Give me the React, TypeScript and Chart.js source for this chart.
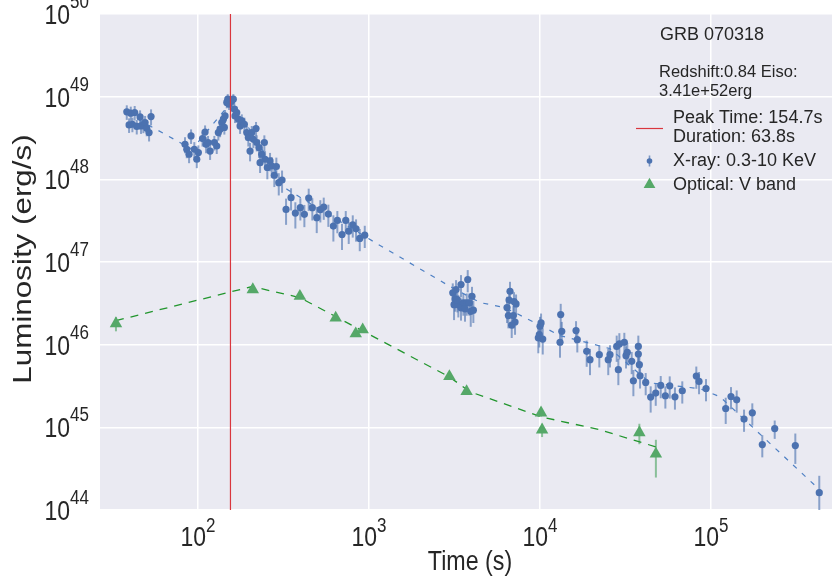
import { useEffect, useRef } from 'react';
import { Chart, registerables } from 'chart.js';

Chart.register(...registerables);

// ---- burst metadata ----
const burstName = 'GRB 070318';
const redshift = 0.84;
const eisoText = '3.41e+52erg';
const peakTime = 154.7; // s
const duration = 63.8; // s

// ---- axis ticks (powers of ten) ----
const xTickExps = [2, 3, 4, 5];
const yTickExps = [44, 45, 46, 47, 48, 49, 50];
const xMin = 26.7;
const xMax = 510000;
const yMin = 1e44;
const yMax = 1e50;

// ---- X-ray light curve (0.3-10 keV) ----
const xrayTime = [
  38.3, 40.4, 42.6, 45.8, 53.1, 39.5, 41.3, 43.8, 46.4, 47.9, 49.0, 50.1, 51.7,
  83.9, 85.9, 88.6, 91.0, 95.1, 98.3, 100.4, 106.2, 109.9, 111.4, 114.4, 117.6, 124.5, 128.6, 131.4, 134.5,
  137.6, 140.6, 142.5, 143.8, 147.2, 149.2, 151.8,
  157.4, 160.8, 163.0, 164.5, 168.4, 172.2, 176.1, 180.2, 186.6, 192.7, 196.8, 201.4, 206.1, 210.6, 218.3,
  220.4, 227.3, 230.5, 235.8, 244.2, 246.5, 254.2, 263.6, 269.8, 279.3, 287.0, 296.5, 309.9,
  327.1, 349.8, 370.7, 396.5, 418.6, 443.7, 465.9, 494.4, 519.0, 543.3, 578.1, 618.5, 652.6, 695.0, 730.8,
  760.6, 803.1, 839.5, 882.4, 944.0,
  3088, 3228, 3451, 3777, 3184, 3141, 3328, 3451, 3560, 3727, 3861, 4000, 3934, 4074, 3283, 3642,
  6676, 6590, 6412, 7046, 7240, 6530, 6979, 7142, 6830,
  9772, 10000, 10140, 10370, 9908, 13210, 13400, 13090, 16240, 16520, 18750, 19600, 22220, 25060, 25650,
  28080, 29100, 28710, 31120, 31840, 32390, 34360, 35150, 37580, 37580, 38100, 38450, 41500, 44370, 47500,
  50800, 54070, 57350, 61520, 67920, 82030, 85100, 93500, 121900, 130900, 141300, 156000, 174400, 199500,
  235800, 311200, 429700,
];
const xrayLum = [
  6.55e48, 6.31e48, 6.43e48, 5.69e48, 5.75e48, 4.55e48, 4.64e48, 4.36e48, 4.43e48, 4.52e48, 4.87e48, 4.15e48, 3.68e48,
  2.65e48, 2.31e48, 2.01e48, 3.35e48, 2.31e48, 1.75e48, 2.11e48, 3.11e48, 3.74e48, 2.65e48, 2.79e48, 2.2e48, 2.79e48,
  2.53e48, 3.68e48, 4.04e48, 4.87e48, 5.34e48, 4.24e48, 5.85e48, 8.51e48, 9.33e48, 8.11e48,
  8.89e48, 9.33e48, 7.05e48, 5.85e48, 6.43e48, 5.34e48, 4.43e48, 5.09e48, 4.64e48, 3.68e48, 3.2e48, 2.2e48, 3.68e48,
  3.05e48, 4.12e48, 2.79e48, 2.42e48, 1.59e48, 2.01e48, 2.79e48, 1.75e48, 1.39e48, 1.67e48, 1.45e48, 1.12e48, 1.43e48,
  9.12e47, 9.82e47,
  4.33e47, 6.0e47, 3.91e47, 4.54e47, 3.77e47, 5.93e47, 4.54e47, 3.44e47, 4.3e47, 4.62e47, 3.8e47, 2.72e47, 3.18e47,
  2.15e47, 3.18e47, 2.36e47, 2.82e47, 2.52e47, 1.93e47, 2.11e47,
  4.24e46, 4.64e46, 5.34e46, 6.14e46, 3.58e46, 3.05e46, 3.05e46, 2.79e46, 3.2e46, 3.2e46, 3.2e46, 3.85e46, 2.53e46,
  2.61e46, 3.51e46, 2.71e46,
  4.43e46, 3.46e46, 2.81e46, 3.32e46, 3.11e46, 2.25e46, 2.25e46, 1.88e46, 1.72e46,
  1.21e46, 1.67e46, 1.83e46, 1.17e46, 1.32e46, 2.31e46, 1.45e46, 1.07e46, 1.48e46, 1.15e46, 8.3e45, 6.58e45, 7.57e45,
  6.58e45, 7.57e45, 9.53e45, 1.02e46, 4.98e45, 1.07e46, 7.36e45, 8.07e45, 6.28e45, 3.66e45, 9.53e45, 7.71e45, 5.73e45,
  4.21e45, 3.49e45, 2.32e45, 2.6e45, 3.21e45, 2.41e45, 3.18e45, 2.34e45, 2.77e45, 4.18e45, 3.59e45, 2.95e45, 1.69e45,
  2.36e45, 2.15e45, 1.26e45, 1.5e45, 6.19e44, 9.67e44, 6.01e44, 1.62e44,
];
// 1-sigma error, as a fraction of each luminosity
const xrayErrFrac = [
  0.2, 0.2, 0.2, 0.2, 0.22, 0.2, 0.2, 0.2, 0.2, 0.2, 0.2, 0.2, 0.22,
  0.22, 0.22, 0.22, 0.2, 0.22, 0.22, 0.22, 0.2, 0.2, 0.22, 0.2, 0.22, 0.2, 0.2, 0.2, 0.2,
  0.18, 0.18, 0.18, 0.18, 0.15, 0.15, 0.15,
  0.15, 0.15, 0.18, 0.18, 0.18, 0.2, 0.2, 0.2, 0.2, 0.2, 0.22, 0.25, 0.2, 0.22, 0.2,
  0.22, 0.25, 0.25, 0.25, 0.22, 0.25, 0.28, 0.25, 0.28, 0.28, 0.28, 0.3, 0.3,
  0.35, 0.3, 0.35, 0.3, 0.3, 0.3, 0.3, 0.35, 0.3, 0.3, 0.3, 0.35, 0.3, 0.35, 0.3,
  0.3, 0.3, 0.3, 0.3, 0.3,
  0.3, 0.3, 0.3, 0.3, 0.3, 0.35, 0.3, 0.3, 0.3, 0.3, 0.3, 0.3, 0.35, 0.3, 0.3, 0.3,
  0.3, 0.3, 0.35, 0.3, 0.3, 0.3, 0.3, 0.3, 0.3,
  0.35, 0.3, 0.3, 0.35, 0.3, 0.35, 0.3, 0.35, 0.3, 0.3, 0.35, 0.35, 0.3, 0.35, 0.3,
  0.35, 0.35, 0.35, 0.3, 0.3, 0.3, 0.3, 0.35, 0.35, 0.3, 0.3, 0.3, 0.3, 0.35, 0.3,
  0.3, 0.3, 0.3, 0.3, 0.3, 0.3, 0.3, 0.3, 0.35, 0.3, 0.3, 0.3, 0.3, 0.3,
  0.25, 0.4, 0.6,
];

// ---- X-ray model curve ----
const xrayModelTime = [38.4, 92.3, 158, 331, 1084, 2980, 4460, 6240, 13090, 25650, 43950, 86300, 113000, 446000];
const xrayModelLum = [
  6.31e48, 2.31e48, 8.82e48, 7.57e47, 1.72e47, 5.05e46, 3.23e46, 2.81e46, 1.29e46, 8.95e45, 3.46e45, 2.93e45,
  2.34e45, 1.65e44,
];

// ---- optical V-band light curve ----
const optTime = [33.1, 209, 394, 638, 836, 918, 2950, 3720, 10140, 10280, 38100, 47600];
const optLum = [1.8e46, 4.64e46, 3.85e46, 2.11e46, 1.36e46, 1.52e46, 4.13e45, 2.72e45, 1.5e45, 9.33e44, 8.65e44, 4.77e44];
const optErr = [3.5e45, 3.0e45, 2.5e45, 1.5e45, 1.0e45, 1.0e45, 3.0e44, 2.0e44, 1.5e44, 1.7e44, 2.4e44, 2.3e44];

// ---- optical model curve ----
const optModelTime = [33.1, 207, 394, 910, 2940, 3900, 10140, 22400, 47600];
const optModelLum = [1.95e46, 5.05e46, 3.71e46, 1.48e46, 4.09e45, 2.69e45, 1.34e45, 9.33e44, 5.8e44];

// ---- styling ----
const FONT = '"Liberation Sans", Arial, "DejaVu Sans", sans-serif';
const TEXT = '#262626';
const PLOT_BG = '#EAEAF2';
const BLUE = '#4C72B0';
const GREEN = '#55A868';
const RED = '#d9363e';

// Axis text is set in a condensed face: draw it narrowed horizontally.
function narrowText(
  ctx: CanvasRenderingContext2D,
  text: string,
  x: number,
  y: number,
  size: number,
  sx: number,
) {
  ctx.save();
  ctx.translate(x, y);
  ctx.scale(sx, 1);
  ctx.font = `${size}px ${FONT}`;
  ctx.textAlign = 'left';
  ctx.textBaseline = 'alphabetic';
  ctx.fillText(text, 0, 0);
  ctx.restore();
}

function measureNarrow(ctx: CanvasRenderingContext2D, text: string, size: number, sx: number) {
  ctx.font = `${size}px ${FONT}`;
  return ctx.measureText(text).width * sx;
}

const BASE_SIZE = 28;
const BASE_SX = 0.82;
const SUP_SIZE = 20;
const SUP_SX = 0.85;

function drawPower(
  ctx: CanvasRenderingContext2D,
  exp: number,
  x: number,
  baseY: number,
  supY: number,
  mode: 'right' | 'center',
) {
  const base = '10';
  const sup = String(exp);
  const bw = measureNarrow(ctx, base, BASE_SIZE, BASE_SX);
  const sw = measureNarrow(ctx, sup, SUP_SIZE, SUP_SX);
  const left = mode === 'right' ? x - bw - sw : x - (bw + sw) / 2;
  ctx.fillStyle = TEXT;
  narrowText(ctx, base, left, baseY, BASE_SIZE, BASE_SX);
  narrowText(ctx, sup, left + bw, supY, SUP_SIZE, SUP_SX);
}

const decorPlugin = {
  id: 'decor',
  beforeDraw(chart: any) {
    const { ctx, chartArea: a } = chart;
    ctx.save();
    ctx.fillStyle = '#ffffff';
    ctx.fillRect(0, 0, chart.width, chart.height);
    ctx.fillStyle = PLOT_BG;
    ctx.fillRect(a.left, a.top, a.right - a.left, a.bottom - a.top);
    ctx.restore();
  },
  beforeDatasetsDraw(chart: any) {
    const { ctx, chartArea: a, scales } = chart;
    const xs = scales.x;
    const ys = scales.y;
    ctx.save();
    ctx.beginPath();
    ctx.rect(a.left, a.top, a.right - a.left, a.bottom - a.top);
    ctx.clip();
    ctx.lineWidth = 2;
    ctx.strokeStyle = 'rgba(76,114,176,0.62)';
    xrayTime.forEach((t, i) => {
      const px = xs.getPixelForValue(t);
      const e = xrayLum[i] * xrayErrFrac[i];
      const lo = Math.max(xrayLum[i] - e, yMin * 0.1);
      ctx.beginPath();
      ctx.moveTo(px, ys.getPixelForValue(xrayLum[i] + e));
      ctx.lineTo(px, ys.getPixelForValue(lo));
      ctx.stroke();
    });
    ctx.strokeStyle = 'rgba(85,168,104,0.65)';
    optTime.forEach((t, i) => {
      const px = xs.getPixelForValue(t);
      ctx.beginPath();
      ctx.moveTo(px, ys.getPixelForValue(optLum[i] + optErr[i]));
      ctx.lineTo(px, ys.getPixelForValue(optLum[i] - optErr[i]));
      ctx.stroke();
    });
    ctx.restore();
  },
  afterDatasetsDraw(chart: any) {
    const { ctx, chartArea: a, scales } = chart;
    const px = scales.x.getPixelForValue(peakTime);
    ctx.save();
    ctx.strokeStyle = RED;
    ctx.lineWidth = 1.2;
    ctx.beginPath();
    ctx.moveTo(px, a.top);
    ctx.lineTo(px, a.bottom);
    ctx.stroke();
    ctx.restore();
  },
  afterDraw(chart: any) {
    const { ctx, chartArea: a, scales } = chart;
    ctx.save();
    // tick labels
    yTickExps.forEach((e) => {
      const py = scales.y.getPixelForValue(10 ** e);
      drawPower(ctx, e, a.left - 11, py + 10, py - 6, 'right');
    });
    xTickExps.forEach((e) => {
      const px = scales.x.getPixelForValue(10 ** e);
      drawPower(ctx, e, px, 546, 532, 'center');
    });

    // axis titles
    ctx.fillStyle = TEXT;
    const tw = measureNarrow(ctx, 'Time (s)', 28, 0.83);
    narrowText(ctx, 'Time (s)', 470 - tw / 2, 569.5, 28, 0.83);

    ctx.save();
    ctx.translate(30.5, 259);
    ctx.rotate(-Math.PI / 2);
    ctx.scale(1.23, 1);
    ctx.font = `25.5px ${FONT}`;
    ctx.textAlign = 'center';
    ctx.textBaseline = 'alphabetic';
    ctx.fillText('Luminosity (erg/s)', 0, 0);
    ctx.restore();

    // legend block
    ctx.fillStyle = TEXT;
    ctx.textAlign = 'left';
    ctx.textBaseline = 'alphabetic';
    ctx.font = `18px ${FONT}`;
    ctx.fillText(burstName, 660, 40);
    ctx.font = `16.5px ${FONT}`;
    ctx.fillText(`Redshift:${redshift} Eiso:`, 659, 77);
    ctx.fillText(eisoText, 659, 96);
    ctx.font = `18px ${FONT}`;
    ctx.fillText(`Peak Time: ${peakTime}s`, 673, 122.7);
    ctx.fillText(`Duration: ${duration}s`, 673, 141.5);
    ctx.fillText('X-ray: 0.3-10 KeV', 673, 165.5);
    ctx.fillText('Optical: V band', 673, 189.5);

    ctx.strokeStyle = RED;
    ctx.lineWidth = 1.2;
    ctx.beginPath();
    ctx.moveTo(636, 128.5);
    ctx.lineTo(663, 128.5);
    ctx.stroke();

    ctx.strokeStyle = 'rgba(76,114,176,0.7)';
    ctx.lineWidth = 1.6;
    ctx.beginPath();
    ctx.moveTo(649.5, 155.5);
    ctx.lineTo(649.5, 166.5);
    ctx.stroke();
    ctx.fillStyle = BLUE;
    ctx.beginPath();
    ctx.arc(649.5, 161, 2.8, 0, Math.PI * 2);
    ctx.fill();

    ctx.fillStyle = GREEN;
    const r = 6.8;
    const cx = 649.5;
    const cy = 184.5;
    ctx.beginPath();
    ctx.moveTo(cx, cy - r);
    ctx.lineTo(cx + r * 0.866, cy + r * 0.5);
    ctx.lineTo(cx - r * 0.866, cy + r * 0.5);
    ctx.closePath();
    ctx.fill();
    ctx.restore();
  },
};

export default function App() {
  const ref = useRef<HTMLCanvasElement>(null);

  useEffect(() => {
    document.body.style.margin = '0';
    const canvas = ref.current;
    if (!canvas) return;

    const xrayPoints = xrayTime.map((t, i) => ({ x: t, y: xrayLum[i] }));
    const optPoints = optTime.map((t, i) => ({ x: t, y: optLum[i] }));
    const xrayModel = xrayModelTime.map((t, i) => ({ x: t, y: xrayModelLum[i] }));
    const optModel = optModelTime.map((t, i) => ({ x: t, y: optModelLum[i] }));

    const chart = new Chart(canvas, {
      type: 'scatter',
      data: {
        datasets: [
          {
            label: 'X-ray: 0.3-10 KeV',
            data: xrayPoints,
            pointRadius: 3.6,
            pointBackgroundColor: BLUE,
            pointBorderWidth: 0,
            showLine: false,
            order: 1,
          },
          {
            label: 'Optical: V band',
            data: optPoints,
            pointStyle: 'triangle',
            pointRadius: 7.2,
            pointBackgroundColor: GREEN,
            pointBorderWidth: 0,
            showLine: false,
            order: 0,
          },
          {
            label: 'X-ray model',
            data: xrayModel,
            showLine: true,
            pointRadius: 0,
            borderColor: '#4f80c4',
            borderWidth: 1.2,
            borderDash: [5, 7],
            order: 2,
          },
          {
            label: 'Optical model',
            data: optModel,
            showLine: true,
            pointRadius: 0,
            borderColor: '#22962e',
            borderWidth: 1.3,
            borderDash: [8, 7],
            order: 2,
          },
        ],
      },
      options: {
        responsive: false,
        animation: false,
        devicePixelRatio: 1,
        layout: { autoPadding: false, padding: { left: 0, top: 14, right: 0, bottom: 0 } },
        plugins: {
          legend: { display: false },
          tooltip: { enabled: false },
        },
        scales: {
          x: {
            type: 'logarithmic',
            min: xMin,
            max: xMax,
            afterBuildTicks: (s: any) => {
              s.ticks = xTickExps.map((e) => ({ value: 10 ** e }));
            },
            afterFit: (s: any) => {
              s.height = 71;
            },
            ticks: { display: false },
            grid: { color: '#ffffff', lineWidth: 1.5, drawTicks: false },
            border: { display: false },
          },
          y: {
            type: 'logarithmic',
            min: yMin,
            max: yMax,
            afterBuildTicks: (s: any) => {
              s.ticks = yTickExps.map((e) => ({ value: 10 ** e }));
            },
            afterFit: (s: any) => {
              s.width = 100;
            },
            ticks: { display: false },
            grid: { color: '#ffffff', lineWidth: 1.5, drawTicks: false },
            border: { display: false },
          },
        },
      },
      plugins: [decorPlugin],
    });

    return () => chart.destroy();
  }, []);

  return (
    <div style={{ width: 832, height: 581 }}>
      <canvas ref={ref} width={832} height={581} style={{ display: 'block' }} />
    </div>
  );
}
